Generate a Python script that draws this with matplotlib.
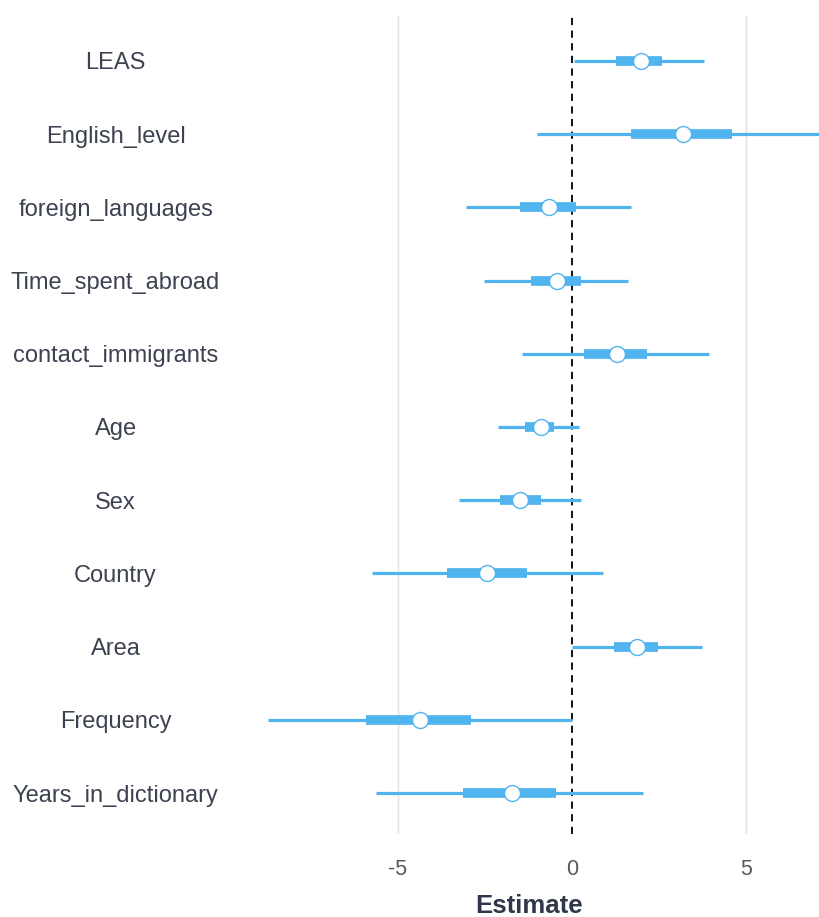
import matplotlib
matplotlib.use("Agg")
import matplotlib.pyplot as plt

plt.rcParams['font.family'] = ['Liberation Sans', 'DejaVu Sans']

# Coefficient estimates with inner (thick) and outer (thin) intervals
terms = ["LEAS", "English_level", "foreign_languages", "Time_spent_abroad",
         "contact_immigrants", "Age", "Sex", "Country", "Area", "Frequency",
         "Years_in_dictionary"]
estimate = [1.99, 3.19, -0.64, -0.43, 1.30, -0.89, -1.49, -2.42, 1.88, -4.35, -1.72]
inner_lo = [1.28, 1.71, -1.49, -1.18, 0.34, -1.33, -2.06, -3.58, 1.22, -5.90, -3.12]
inner_hi = [2.59, 4.59, 0.12, 0.28, 2.16, -0.51, -0.87, -1.28, 2.48, -2.90, -0.44]
outer_lo = [0.07, -1.01, -3.05, -2.53, -1.42, -2.11, -3.23, -5.73, 0.00, -8.73, -5.62]
outer_hi = [3.79, 7.80, 1.69, 1.63, 3.93, 0.22, 0.28, 0.90, 3.74, 0.00, 2.05]

blue = "#52b4ee"
label_col = "#3d4250"

fig = plt.figure(figsize=(8.2, 9.17), dpi=100)
ax = fig.add_axes([0.29, 0.0905, 0.71, 0.8925])

ypos = list(range(len(terms)))

for gx in (-5, 5):
    ax.axvline(gx, color="#e3e3e3", lw=1.0, zorder=0)
ax.axvline(0, color="black", lw=1.3, ls=(0, (4, 3)), zorder=1)

ax.hlines(ypos, outer_lo, outer_hi, color=blue, lw=2.3, zorder=2)
ax.hlines(ypos, inner_lo, inner_hi, color=blue, lw=7.0, zorder=3)
ax.plot(estimate, ypos, ls="none", marker="o", ms=11.5, mfc="white",
        mec=blue, mew=1.0, zorder=4)

ax.set_xlim(-9.59, 7.13)
ax.set_ylim(len(terms) - 1 + 0.56, -0.62)

ax.set_yticks(ypos)
ax.set_yticklabels(terms, fontsize=17, color=label_col, ha="center")
ax.set_xticks([-5, 0, 5])
ax.set_xticklabels(["-5", "0", "5"], fontsize=15.5, color="#555a62")
ax.tick_params(axis="y", length=0, pad=88)
ax.tick_params(axis="x", length=0, pad=18)

ax.set_xlabel("Estimate", fontsize=18.5, fontweight="bold", color="#2f3848",
              labelpad=10)

for s in ax.spines.values():
    s.set_visible(False)

fig.savefig("out.png", dpi=100, facecolor="white")
